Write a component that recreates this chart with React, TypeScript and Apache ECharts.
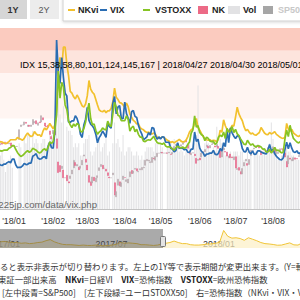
import React, { useEffect, useRef } from 'react';
import * as echarts from 'echarts';

const vix = [
  9.34, 10.18, 10.18, 10.49, 9.42, 9.53, 10.03, 9.72, 9.62, 9.9, 9.9, 10.25, 10.47, 10.18, 11.04,
  11.04, 9.77, 9.15, 9.22, 9.22, 9.52, 10.08, 9.82, 9.88, 10.16, 10.16, 11.66, 11.91, 12.22, 11.27,
  11.03, 11.1, 11.47, 11.58, 11.08, 13.84, 14.79, 13.54, 13.47, 17.31, 37.32, 29.98, 27.73, 33.46, 29.06,
  25.61, 24.97, 19.26, 19.13, 19.46, 19.46, 20.6, 20.02, 18.72, 16.49, 15.8, 18.59, 19.85, 22.47, 19.59,
  18.73, 18.36, 17.76, 16.54, 14.64, 15.78, 16.35, 17.23, 16.59, 15.8, 19.02, 18.2, 17.86, 23.34, 24.87,
  21.03, 22.5, 22.87, 19.97, 19.97, 23.62, 21.1, 20.06, 18.94, 21.49, 21.77, 20.47, 20.24, 18.49, 17.41,
  16.56, 15.25, 15.6, 15.96, 16.88, 16.34, 18.02, 17.84, 16.24, 15.41, 15.93, 15.49, 15.97, 15.9, 14.77,
  14.75, 14.71, 13.42, 13.23, 12.65, 12.93, 14.63, 13.42, 13.43, 13.42, 13.08, 13.22, 12.58, 12.53, 13.22,
  13.22, 17.02, 14.94, 15.43, 13.46, 12.74, 12.4, 11.64, 12.13, 12.18, 12.35, 12.35, 12.94, 12.12, 11.98,
  12.31, 13.35, 12.79, 14.64, 13.77, 17.33, 14.68, 17.91, 16.85, 16.09, 15.6, 16.14, 16.14, 14.97, 13.37,
  12.69, 12.64, 13.63, 12.58, 12.18, 12.83, 12.06, 12.1, 12.87, 12.86, 12.62, 12.41, 12.29, 12.14, 13.03,
  14.26, 12.83, 13.15, 12.19, 11.64, 11.27, 10.93, 10.85, 11.27, 13.16, 14.78, 13.31, 14.64, 13.45, 12.64,
  12.49, 12.86, 12.25, 12.41, 11.99,
];

const vstoxx = [
  12.5, 12.8, 12.6, 13.0, 12.7, 12.3, 12.6, 12.9, 12.8, 13.0, 13.0, 13.0, 13.4, 13.6, 14.0,
  14.0, 13.2, 12.5, 12.0, 11.6, 11.8, 12.2, 12.6, 12.9, 12.5, 12.8, 13.4, 13.2, 13.0, 12.6,
  12.4, 12.6, 13.1, 13.3, 12.9, 13.6, 14.8, 14.5, 14.9, 17.6, 20.8, 30.5, 24.5, 28.0, 27.0,
  23.0, 22.0, 19.5, 18.6, 18.0, 18.8, 18.3, 18.9, 18.6, 17.2, 17.0, 17.8, 19.2, 21.5, 23.4,
  20.0, 18.6, 18.8, 17.4, 16.5, 17.0, 17.3, 17.9, 17.6, 17.5, 19.4, 18.6, 18.2, 21.0, 23.6,
  22.5, 20.7, 20.5, 19.5, 19.5, 19.5, 20.6, 19.8, 17.2, 18.0, 18.3, 17.1, 17.6, 16.5, 15.9,
  15.9, 15.0, 14.9, 15.2, 15.3, 15.2, 15.6, 16.1, 15.3, 14.7, 14.5, 14.5, 14.3, 14.6, 13.9,
  13.7, 13.8, 13.6, 13.3, 13.0, 13.5, 13.9, 13.6, 13.5, 13.7, 13.4, 13.6, 14.3, 14.8, 16.8,
  17.5, 20.6, 18.1, 18.4, 16.9, 16.4, 16.2, 15.1, 15.9, 15.6, 15.0, 14.9, 15.0, 14.3, 14.6,
  15.9, 16.3, 16.0, 17.0, 15.6, 17.8, 17.0, 17.2, 18.2, 16.9, 17.6, 16.6, 16.2, 15.5, 14.9,
  14.3, 14.2, 15.2, 14.6, 14.1, 14.4, 13.9, 13.7, 14.0, 13.9, 13.7, 13.2, 13.3, 12.6, 12.6,
  13.2, 12.4, 12.9, 13.6, 12.9, 13.0, 12.7, 12.4, 12.6, 15.5, 17.4, 16.0, 18.5, 16.8, 15.6,
  15.2, 14.8, 14.6, 14.9, 14.3,
];

const nkvi = [
  15.2, 15.4, 15.3, 15.1, 14.9, 14.8, 14.6, 14.9, 14.8, 14.6, 14.4, 14.6, 14.9, 15.3, 15.3,
  15.3, 15.3, 15.8, 15.6, 15.4, 15.2, 15.6, 16.3, 16.8, 16.3, 16.0, 16.2, 17.1, 16.6, 16.3,
  16.4, 16.0, 17.2, 17.9, 17.5, 18.1, 18.9, 18.3, 17.7, 18.6, 22.0, 30.7, 33.5, 31.0, 35.8,
  35.8, 32.0, 29.5, 26.0, 25.6, 24.8, 24.3, 25.2, 24.5, 23.6, 22.8, 22.5, 23.2, 25.0, 28.4,
  26.5, 25.8, 25.4, 24.2, 23.0, 21.9, 21.6, 21.5, 21.8, 21.3, 21.7, 21.7, 22.2, 23.7, 26.7,
  24.7, 24.2, 23.5, 23.4, 23.0, 22.5, 23.4, 22.6, 21.0, 20.3, 19.6, 19.3, 18.8, 18.9, 18.0,
  17.7, 17.5, 17.1, 16.9, 17.0, 16.7, 16.6, 16.8, 16.5, 15.9, 15.6, 15.7, 15.9, 15.8, 15.5,
  15.2, 15.0, 14.7, 14.9, 14.6, 14.9, 15.1, 15.4, 15.0, 14.8, 14.9, 15.2, 16.0, 17.0, 17.5,
  17.8, 18.9, 20.0, 18.0, 17.4, 16.7, 16.0, 15.6, 15.3, 15.2, 15.3, 15.0, 15.2, 15.1, 14.8,
  15.5, 17.4, 17.0, 19.7, 18.4, 17.6, 17.2, 17.7, 18.5, 18.3, 20.3, 22.5, 21.0, 20.2, 19.5,
  18.2, 17.3, 17.6, 17.0, 16.6, 16.8, 16.4, 16.3, 16.6, 16.9, 18.0, 17.4, 16.8, 16.5, 16.4,
  16.9, 16.6, 16.8, 17.1, 16.5, 16.2, 15.9, 15.7, 15.6, 15.9, 18.9, 17.7, 17.2, 17.6, 16.8,
  16.5, 16.2, 16.0, 16.3, 16.4,
];

const nkOpen = [
  22990, 22880, 22850, 22720, 22700, 22700, 22950, 22830, 22920, 22900, 22960, 22920, 22880, 22920, 22800,
  22765, 22765, 22765, 23073, 23643, 23715, 23720, 23830, 23650, 23700, 23650, 23730, 23800, 23900, 23700,
  23850, 23840, 24030, 23800, 23660, 23700, 23450, 23200, 23330, 23420, 23100, 22080, 21920, 21790, 21720,
  21382, 21490, 21200, 21350, 21550, 21820, 22050, 21900, 21850, 21800, 21950, 22340, 22200, 21940, 21480,
  21200, 21150, 21400, 21200, 21390, 21700, 21880, 21930, 21800, 21760, 21600, 21410, 21380, 21510, 21160,
  20540, 21050, 21200, 20990, 21300, 21390, 21220, 21150, 21420, 21700, 21580, 21760, 21780, 21640, 21730,
  21730, 21820, 21930, 22130, 22130, 22050, 22060, 22250, 22160, 22310, 22467, 22480, 22500, 22472, 22472,
  22480, 22480, 22420, 22430, 22600, 22800, 22880, 22650, 22770, 22860, 22950, 23050, 22850, 22490, 22400,
  22480, 22420, 22240, 22150, 22250, 22300, 22500, 22530, 22760, 22770, 22700, 22850, 22890, 22790, 22750,
  22770, 22570, 22300, 22610, 22540, 22510, 22260, 22430, 22300, 22180, 22310, 21750, 21830, 21650, 21550,
  21900, 22130, 22010, 21970, 22370, 22597, 22660, 22710, 22820, 22730, 22560, 22480, 22600, 22590, 22610,
  22590, 22510, 22640, 22700, 22440, 22450, 22560, 22660, 22620, 22480, 22100, 22000, 22250, 22130, 22140,
  22260, 22230, 22320, 22390, 22420,
];

const nkClose = [
  22938, 22866, 22758, 22694, 22553, 22901, 22868, 22891, 22866, 22902, 22939, 22892, 22911, 22783, 22765,
  22765, 22765, 22765, 23506, 23715, 23715, 23850, 23788, 23710, 23653, 23714, 23952, 23868, 23763, 23808,
  23816, 24124, 23940, 23669, 23631, 23629, 23291, 23098, 23486, 23274, 22682, 21610, 21645, 21891, 21382,
  21382, 21245, 21154, 21464, 21720, 22149, 21925, 21970, 21737, 21893, 22153, 22389, 22068, 21724, 21182,
  21042, 21417, 21252, 21368, 21469, 21824, 21968, 21777, 21803, 21676, 21480, 21380, 21380, 21591, 20617,
  20766, 21317, 21031, 21159, 21454, 21388, 21292, 21319, 21645, 21567, 21678, 21794, 21687, 21660, 21778,
  21835, 21847, 22158, 22191, 22162, 22088, 22278, 22215, 22319, 22467, 22467, 22508, 22472, 22472, 22472,
  22467, 22508, 22408, 22497, 22758, 22866, 22818, 22717, 22838, 22930, 23002, 22960, 22689, 22437, 22450,
  22481, 22358, 22018, 22201, 22171, 22475, 22539, 22625, 22823, 22694, 22804, 22878, 22966, 22738, 22851,
  22680, 22278, 22555, 22693, 22516, 22338, 22342, 22271, 22270, 22304, 21811, 21785, 21717, 21546, 21788,
  22052, 22196, 21932, 22187, 22597, 22597, 22697, 22794, 22764, 22697, 22397, 22510, 22614, 22586, 22712,
  22544, 22553, 22746, 22512, 22525, 22507, 22662, 22644, 22598, 22298, 21857, 22356, 22204, 22192, 22270,
  22199, 22219, 22362, 22410, 22601,
];

const volume = [
  14, 15, 14, 16, 20, 15, 14, 13, 14, 12, 9, 11, 12, 13, 10,
  0, 0, 0, 16, 15, 0, 17, 16, 18, 18, 15, 19, 16, 17, 16,
  14, 16, 17, 17, 15, 16, 18, 18, 19, 17, 22, 28, 23, 21, 25,
  0, 20, 19, 19, 18, 15, 16, 15, 16, 13, 13, 16, 17, 17, 18,
  14, 13, 14, 15, 18, 17, 14, 15, 16, 19, 13, 14, 0, 16, 21,
  16, 17, 15, 14, 18, 13, 14, 15, 15, 14, 13, 13, 14, 13, 12,
  13, 12, 14, 15, 15, 15, 15, 14, 16, 16, 0, 16, 15, 0, 0,
  15, 15, 16, 15, 17, 15, 16, 14, 15, 14, 13, 14, 15, 16, 14,
  13, 16, 18, 30, 15, 14, 14, 16, 17, 16, 14, 14, 15, 14, 20,
  14, 17, 16, 15, 13, 14, 13, 14, 13, 14, 14, 14, 13, 14, 14,
  12, 12, 14, 12, 14, 0, 13, 14, 14, 13, 13, 14, 14, 13, 15,
  16, 21, 17, 15, 14, 12, 12, 13, 13, 14, 15, 14, 14, 13, 13,
  12, 12, 12, 12, 12,
];

const navNkvi = [
  22, 21, 19.5, 19, 19.5, 20, 21, 20.5, 19.5, 20, 19, 18.5, 18.5, 17.5,
  18, 17, 17.5, 18.5, 19, 21, 22.5, 19.5, 17.5, 16, 15.5, 15.5, 15,
  14.5, 15, 14.5, 14.5, 15, 14.5, 14, 14.5, 15, 16, 18.5, 17.5, 18,
  17.5, 17, 15.5, 15.5, 15, 14.5, 15, 16.5, 17.5, 18.5, 20.5, 18.5, 17,
  17, 15.5, 15, 15, 15.5, 16.5, 16.5, 17.5, 18.5, 35, 27, 24.5, 25,
  24, 21.5, 25, 23, 21, 18.5, 17, 16.5, 15.8, 14.8, 15, 16.5, 18,
  15.3, 15, 18, 18, 20.5, 17, 16.6, 16.8, 16.8, 16, 17.6, 16.3,
];

const bands = [
  { from: 35, to: 40, color: '#fbcbbf' },
  { from: 30, to: 35, color: '#fde4dd' },
  { from: 20, to: 30, color: '#fff5f2' },
];

function pad(n: number) { return n < 10 ? '0' + n : '' + n; }
function fmt(d: Date) { return d.getUTCFullYear() + '/' + pad(d.getUTCMonth() + 1) + '/' + pad(d.getUTCDate()); }
function weekdayList(y: number, m: number, d: number, n: number) {
  const out: string[] = [];
  let t = Date.UTC(y, m - 1, d);
  while (out.length < n) {
    const dt = new Date(t);
    const wd = dt.getUTCDay();
    if (wd !== 0 && wd !== 6) out.push(fmt(dt));
    t += 86400000;
  }
  return out;
}
function mondayList(y: number, m: number, d: number, n: number) {
  const out: string[] = [];
  let t = Date.UTC(y, m - 1, d);
  for (let i = 0; i < n; i++) { out.push(fmt(new Date(t))); t += 7 * 86400000; }
  return out;
}

const dates = weekdayList(2017, 12, 11, vix.length);
const navWeeks = mondayList(2016, 11, 28, navNkvi.length);

const OX = 40;
const CW = 400;
const BAND = 1.704;
const MAIN_LEFT = -12.41;
const NAV_STEP = 4.13;
const NAV_LEFT = -32.41;
const GRID_TOP = 28;
const GRID_H = 181;

export default function App() {
  const ref = useRef<HTMLDivElement>(null);
  useEffect(() => {
    if (!ref.current) return;
    const chart = echarts.init(ref.current, undefined, { renderer: 'svg' });
    const candle = nkOpen.map((o, i) => {
      const c = nkClose[i];
      return [o, c, Math.min(o, c), Math.max(o, c)];
    });
    const monthIdx: number[] = [];
    dates.forEach((d, i) => { if (i > 0 && d.slice(5, 7) !== dates[i - 1].slice(5, 7)) monthIdx.push(i); });
    const navIdx: number[] = [];
    navWeeks.forEach((w, i) => {
      const m = w.slice(5, 7);
      if ((m === '01' || m === '07') && parseInt(w.slice(8, 10), 10) <= 7) navIdx.push(i);
    });
    const font = 'Liberation Sans, Arial, sans-serif';
    const jp = 'Noto Sans CJK JP, sans-serif';
    const legendY = 10;
    const lt = (x: number, text: string, fill = '#222') => ({
      type: 'text', x: OX + x, y: legendY,
      style: { text, fontSize: 9, fontWeight: 'bold', fontFamily: font, fill, verticalAlign: 'middle' },
    });
    const graphic: any[] = [
      { type: 'rect', shape: { x: OX + 0, y: 0, width: 27, height: 19 }, style: { fill: '#d6d6d6' } },
      { type: 'text', x: OX + 13, y: legendY, style: { text: '1Y', fontSize: 9, fontWeight: 'bold', fontFamily: font, fill: '#333', align: 'center', verticalAlign: 'middle' } },
      { type: 'rect', shape: { x: OX + 30, y: 0, width: 29, height: 19 }, style: { fill: '#ececec' } },
      { type: 'text', x: OX + 44, y: legendY, style: { text: '2Y', fontSize: 9, fontFamily: font, fill: '#555', align: 'center', verticalAlign: 'middle' } },
      { type: 'rect', shape: { x: OX + 63, y: -2, width: 300, height: 23 }, style: { fill: '#fff', stroke: '#d0d0d0', lineWidth: 1, shadowBlur: 3, shadowColor: 'rgba(0,0,0,0.15)', shadowOffsetY: 1 } },
      { type: 'line', shape: { x1: OX + 68, y1: legendY, x2: OX + 75, y2: legendY }, style: { stroke: '#f2c12e', lineWidth: 2 } },
      lt(78, 'NKvi'),
      { type: 'line', shape: { x1: OX + 100, y1: legendY, x2: OX + 107, y2: legendY }, style: { stroke: '#2a6db3', lineWidth: 2 } },
      lt(110, 'VIX'),
      { type: 'line', shape: { x1: OX + 143, y1: legendY, x2: OX + 150, y2: legendY }, style: { stroke: '#86c424', lineWidth: 2 } },
      lt(155, 'VSTOXX'),
      { type: 'rect', shape: { x: OX + 198, y: 6, width: 10, height: 8 }, style: { fill: '#ec6a86' } },
      lt(212, 'NK'),
      { type: 'rect', shape: { x: OX + 228, y: 6, width: 12, height: 8 }, style: { fill: '#e2e2e4' } },
      lt(243, 'Vol'),
      { type: 'rect', shape: { x: OX + 263, y: 6, width: 10, height: 8 }, style: { fill: '#a6a6a6' } },
      lt(278, 'SP500', '#c8c8c8'),
      { type: 'text', x: OX + 97, y: 204, z: 5, style: { text: 'nikkei225jp.com/data/vix.php', fontSize: 9.6, fontFamily: font, fill: '#666', align: 'right', verticalAlign: 'middle' } },
      { type: 'rect', z: 10, shape: { x: 0, y: 229, width: OX + 163, height: 19 }, style: { fill: 'rgba(85,85,85,0.5)' } },
      { type: 'rect', z: 11, shape: { x: OX + 160.5, y: 236.5, width: 5, height: 10, r: 1 }, style: { fill: '#e4e4e4', stroke: '#777', lineWidth: 1 } },
      { type: 'text', x: OX + 0, y: 266, style: { text: 'ると表示非表示が切り替わります。左上の1Y等で表示期間が変更出来ます。(Y=軸', fontSize: 8.4, fontFamily: jp, fill: '#333', verticalAlign: 'middle' } },
      { type: 'text', x: OX - 2, y: 279, style: { text: '東証一部出来高　{b|NKvi}=日経VI　{b|VIX}=恐怖指数　{b|VSTOXX}=欧州恐怖指数', fontSize: 8.4, fontFamily: jp, fill: '#333', verticalAlign: 'middle', rich: { b: { fontWeight: 'bold', fontSize: 8.4, fontFamily: jp, fill: '#222' } } } },
      { type: 'text', x: OX + 2, y: 292, style: { text: '[左中段青=S&P500]　[左下段緑=ユーロSTOXX50]　右=恐怖指数（NKvi・VIX・VSTOXX）', fontSize: 8.4, fontFamily: jp, fill: '#333', verticalAlign: 'middle' } },
    ];

    chart.setOption({
      animation: false,
      backgroundColor: '#ffffff',
      grid: [
        { left: OX + MAIN_LEFT, top: GRID_TOP, width: BAND * dates.length, height: GRID_H },
        { left: OX + NAV_LEFT, top: 229, width: NAV_STEP * (navWeeks.length - 1), height: 19 },
      ],
      xAxis: [
        {
          type: 'category', gridIndex: 0, data: dates, boundaryGap: true,
          axisLine: { lineStyle: { color: '#c4c4c4', width: 1 } },
          axisTick: { alignWithLabel: true, customValues: monthIdx, length: 4, lineStyle: { color: '#c4c4c4' } },
          axisLabel: { show: false },
          splitLine: { show: false },
        },
        {
          type: 'category', gridIndex: 1, data: navWeeks, boundaryGap: false, position: 'top',
          axisLine: { show: false }, axisTick: { show: false },
          axisLabel: {
            inside: true, customValues: navIdx, align: 'left', verticalAlign: 'top', margin: 10, hideOverlap: false,
            formatter: (v: string) => v.slice(0, 7),
            color: '#333', fontSize: 8.8, fontFamily: font,
          },
          splitLine: { show: false },
        },
      ],
      yAxis: [
        { type: 'value', gridIndex: 0, min: 0, max: 40, show: false },
        { type: 'value', gridIndex: 0, min: 20000, max: 28000, show: false },
        { type: 'value', gridIndex: 0, min: 0, max: 44, show: false },
        { type: 'value', gridIndex: 1, min: 11, max: 37, show: false },
      ],
      series: [
        {
          name: 'Vol', type: 'bar', xAxisIndex: 0, yAxisIndex: 2, data: volume,
          barWidth: 1, itemStyle: { color: '#e2e2e4' }, z: 2,
        },
        {
          name: 'NK', type: 'candlestick', xAxisIndex: 0, yAxisIndex: 1, data: candle,
          barWidth: 1.5, z: 2,
          itemStyle: { color: '#b8aaae', color0: '#e8668a', borderColor: '#b8aaae', borderColor0: '#e8668a', borderWidth: 0.6 },
        },
        {
          name: 'NKvi', type: 'line', xAxisIndex: 0, yAxisIndex: 0, data: nkvi, showSymbol: false, z: 3,
          lineStyle: { color: '#f2c12e', width: 1.7 }, itemStyle: { color: '#f2c12e' },
          markArea: {
            silent: true, label: { show: false },
            data: bands.map((b) => [{ yAxis: b.from, itemStyle: { color: b.color } }, { yAxis: b.to }]),
          },
        },
        {
          name: 'VIX', type: 'line', xAxisIndex: 0, yAxisIndex: 0, data: vix, showSymbol: false, z: 4,
          lineStyle: { color: '#2a6db3', width: 1.7 }, itemStyle: { color: '#2a6db3' },
        },
        {
          name: 'VSTOXX', type: 'line', xAxisIndex: 0, yAxisIndex: 0, data: vstoxx, showSymbol: false, z: 5,
          lineStyle: { color: '#86c424', width: 1.7 }, itemStyle: { color: '#86c424' },
        },
        {
          name: 'nav', type: 'line', xAxisIndex: 1, yAxisIndex: 3, data: navNkvi, showSymbol: false, z: 1,
          lineStyle: { color: '#f0c436', width: 1 }, areaStyle: { color: '#fcf0c4', origin: 'start' },
        },
      ],
      graphic,
    });

    const labelY = GRID_TOP + GRID_H + 7;
    const monthLabels = monthIdx.map((i) => {
      const px = chart.convertToPixel({ xAxisIndex: 0 }, i) as unknown as number;
      const v = dates[i];
      return {
        type: 'text', x: px, y: labelY, z: 6,
        style: { text: "'" + v.slice(2, 4) + '/' + v.slice(5, 7), fontSize: 8.8, fontFamily: font, fill: '#333', align: 'center', verticalAlign: 'top' },
      };
    });
    const debug = {
      type: 'text', x: OX + 20, y: 60, z: 20,
      style: { text: 'IDX ' + monthIdx.join(',') + ' | ' + dates[99] + ' ' + dates[100] + ' ' + dates[101] + ' N=' + dates.length, fontSize: 9, fontFamily: font, fill: '#000' },
    };
    chart.setOption({ graphic: graphic.concat(monthLabels, [debug]) });

    return () => chart.dispose();
  }, []);
  return (
    <div style={{ position: 'fixed', left: 0, top: 0, width: 300, height: 300, overflow: 'hidden', background: '#fff' }}>
      <div ref={ref} style={{ position: 'absolute', left: -OX, top: 0, width: CW, height: 300 }} />
    </div>
  );
}
